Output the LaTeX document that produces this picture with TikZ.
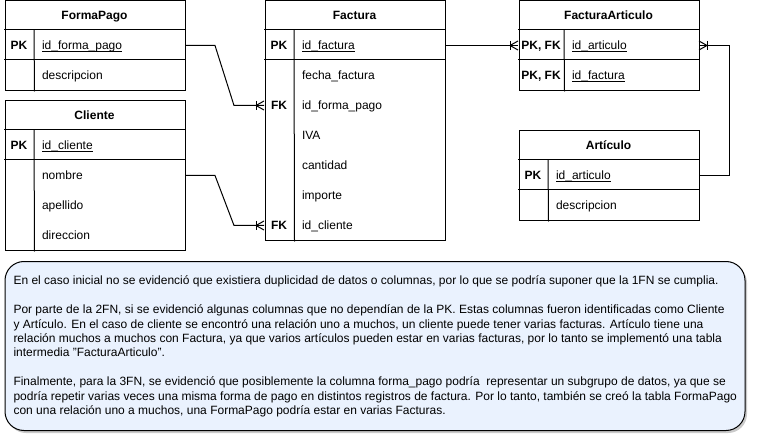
\documentclass[tikz,border=0pt]{standalone}
\usepackage{fontspec}
\setmainfont{Liberation Sans}
\usetikzlibrary{calc,shadows}
\definecolor{boxfill}{RGB}{234,242,254}
\newcommand{\myul}[1]{\setbox0\hbox{#1}\rlap{\rule[-1.9pt]{\wd0}{0.75pt}}\box0}
\newcommand{\keyat}[3]{\node[keyt] (#1k) at ($(#1.west)+(#2,4.2)$) {#3};}
\newcommand{\fldat}[3]{\node[fldt] (#1t) at ($(#1.west)+(#2,4.2)$) {#3};}
\newcommand{\crowft}[2]{%
  \draw[conn] ($(#1)+(#2,-4.5)$) -- ($(#1)+(#2,4.5)$);
  \draw[conn] ($(#1)+(0,-4.5)$) -- ($(#1)+(#2,0)$) -- ($(#1)+(0,4.5)$);}
\begin{document}
\begin{tikzpicture}[x=1pt,y=-1pt,line width=1pt,
  tbox/.style={draw=black,fill=white,line width=1pt,anchor=north west,inner sep=0pt,minimum width=180pt},
  hdr/.style={font=\fontsize{12}{14.4}\selectfont\bfseries,inner sep=0pt,anchor=base},
  keyt/.style={font=\fontsize{12}{14.4}\selectfont\bfseries,inner sep=0pt,anchor=base},
  fldt/.style={font=\fontsize{12}{14.4}\selectfont,inner sep=0pt,anchor=base west},
  rowbox/.style={inner sep=0pt,minimum height=30pt,minimum width=180pt,draw=none},
  conn/.style={draw=black,line width=1pt},
  grid/.style={draw=black,line width=1pt},
  note/.style={draw=black,fill=boxfill,line width=1pt,rounded corners=19pt,anchor=north west,inner sep=0pt,
    minimum width=740pt,minimum height=169pt,
    drop shadow={shadow xshift=2pt,shadow yshift=-2.5pt,opacity=0.35,fill=black!60}},
  notet/.style={font=\fontsize{12}{14.4}\selectfont,inner sep=0pt,anchor=base west}]
\useasboundingbox (0,0) rectangle (765,438);

% ---------- FormaPago ----------
\node[tbox,minimum height=90pt] (fpbox) at (4.5,0.5) {};
\node[rowbox] (fp0) at (94.5,15.5) {};
\node[rowbox] (fp1) at (94.5,45.5) {};
\node[rowbox] (fp2) at (94.5,75.5) {};
\node[hdr] (fph) at ($(fp0.center)+(0,4.2)$) {FormaPago};
\draw[grid] (fp1.north west) -- (fp1.north east);
\draw[grid] (fp2.north west) -- (fp2.north east);
\draw[grid] ($(fp1.north west)+(30,0)$) -- ($(fpbox.south west)+(30,0)$);
\keyat{fp1}{15}{PK}
\fldat{fp1}{37.5}{\myul{id\_forma\_pago}}
\fldat{fp2}{37.5}{descripcion}

% ---------- Cliente ----------
\node[tbox,minimum height=150pt] (clbox) at (4.5,100.5) {};
\node[rowbox] (cl0) at (94.5,115.5) {};
\node[rowbox] (cl1) at (94.5,145.5) {};
\node[rowbox] (cl2) at (94.5,175.5) {};
\node[rowbox] (cl3) at (94.5,205.5) {};
\node[rowbox] (cl4) at (94.5,235.5) {};
\node[hdr] (clh) at ($(cl0.center)+(0,4.2)$) {Cliente};
\draw[grid] (cl1.north west) -- (cl1.north east);
\draw[grid] (cl2.north west) -- (cl2.north east);
\draw[grid] ($(cl1.north west)+(30,0)$) -- ($(clbox.south west)+(30,0)$);
\keyat{cl1}{15}{PK}
\fldat{cl1}{37.5}{\myul{id\_cliente}}
\fldat{cl2}{37.5}{nombre}
\fldat{cl3}{37.5}{apellido}
\fldat{cl4}{37.5}{direccion}

% ---------- Factura ----------
\node[tbox,minimum height=240pt] (fcbox) at (264.5,0.5) {};
\node[rowbox] (fc0) at (354.5,15.5) {};
\node[rowbox] (fc1) at (354.5,45.5) {};
\node[rowbox] (fc2) at (354.5,75.5) {};
\node[rowbox] (fc3) at (354.5,105.5) {};
\node[rowbox] (fc4) at (354.5,135.5) {};
\node[rowbox] (fc5) at (354.5,165.5) {};
\node[rowbox] (fc6) at (354.5,195.5) {};
\node[rowbox] (fc7) at (354.5,225.5) {};
\node[hdr] (fch) at ($(fc0.center)+(0,4.2)$) {Factura};
\draw[grid] (fc1.north west) -- (fc1.north east);
\draw[grid] (fc2.north west) -- (fc2.north east);
\draw[grid] ($(fc1.north west)+(30,0)$) -- ($(fcbox.south west)+(30,0)$);
\keyat{fc1}{15}{PK}
\fldat{fc1}{37.5}{\myul{id\_factura}}
\fldat{fc2}{37.5}{fecha\_factura}
\keyat{fc3}{15}{FK}
\fldat{fc3}{37.5}{id\_forma\_pago}
\fldat{fc4}{37.5}{IVA}
\fldat{fc5}{37.5}{cantidad}
\fldat{fc6}{37.5}{importe}
\keyat{fc7}{15}{FK}
\fldat{fc7}{37.5}{id\_cliente}

% ---------- FacturaArticulo ----------
\node[tbox,minimum height=90pt] (fabox) at (518.5,0.5) {};
\node[rowbox] (fa0) at (608.5,15.5) {};
\node[rowbox] (fa1) at (608.5,45.5) {};
\node[rowbox] (fa2) at (608.5,75.5) {};
\node[hdr] (fah) at ($(fa0.center)+(0,4.2)$) {FacturaArticulo};
\draw[grid] (fa1.north west) -- (fa1.north east);
\draw[grid] (fa2.north west) -- (fa2.north east);
\draw[grid] ($(fa1.north west)+(46,0)$) -- ($(fabox.south west)+(46,0)$);
\keyat{fa1}{23}{PK, FK}
\fldat{fa1}{53.5}{\myul{id\_articulo}}
\keyat{fa2}{23}{PK, FK}
\fldat{fa2}{53.5}{\myul{id\_factura}}

% ---------- Articulo ----------
\node[tbox,minimum height=90pt] (arbox) at (518.5,130.5) {};
\node[rowbox] (ar0) at (608.5,145.5) {};
\node[rowbox] (ar1) at (608.5,175.5) {};
\node[rowbox] (ar2) at (608.5,205.5) {};
\node[hdr] (arh) at ($(ar0.center)+(0,4.2)$) {Artículo};
\draw[grid] (ar1.north west) -- (ar1.north east);
\draw[grid] (ar2.north west) -- (ar2.north east);
\draw[grid] ($(ar1.north west)+(30,0)$) -- ($(arbox.south west)+(30,0)$);
\keyat{ar1}{15}{PK}
\fldat{ar1}{37.5}{\myul{id\_articulo}}
\fldat{ar2}{37.5}{descripcion}

% ---------- Connectors ----------
\draw[conn] (fp1.east) -- ++(30,0) -- ($(fc3.west)+(-30,0)$) -- (fc3.west);
\crowft{fc3.west}{-8}
\draw[conn] (cl2.east) -- ++(30,0) -- ($(fc7.west)+(-30,0)$) -- (fc7.west);
\crowft{fc7.west}{-8}
\draw[conn] (fc1.east) -- (fa1.west);
\crowft{fa1.west}{-8}
\draw[conn] (ar1.east) -- ++(30,0) |- (fa1.east);
\crowft{fa1.east}{8}

% ---------- Note ----------
\node[note] (nt) at (4.5,261) {};
\node[notet] (n1) at (13,284.9) {En el caso inicial no se evidenció que existiera duplicidad de datos o columnas, por lo que se podría suponer que la 1FN se cumplia.};
\node[notet] (n2) at (13,313.7) {Por parte de la 2FN, si se evidenció algunas columnas que no dependían de la PK. Estas columnas fueron identificadas como Cliente};
\node[notet] (n3) at (13,328.1) {y Artículo. En el caso de cliente se encontró una relación uno a muchos, un cliente puede tener varias facturas. Artículo tiene una};
\node[notet] (n4) at (13,342.5) {relación muchos a muchos con Factura, ya que varios artículos pueden estar en varias facturas, por lo tanto se implementó una tabla};
\node[notet] (n5) at (13,356.9) {intermedia "FacturaArticulo".};
\node[notet] (n6) at (13,385.7) {Finalmente, para la 3FN, se evidenció que posiblemente la columna forma\_pago podría\ \ representar un subgrupo de datos, ya que se};
\node[notet] (n7) at (13,400.1) {podría repetir varias veces una misma forma de pago en distintos registros de factura. Por lo tanto, también se creó la tabla FormaPago};
\node[notet] (n8) at (13,414.5) {con una relación uno a muchos, una FormaPago podría estar en varias Facturas.};
\end{tikzpicture}
\end{document}
